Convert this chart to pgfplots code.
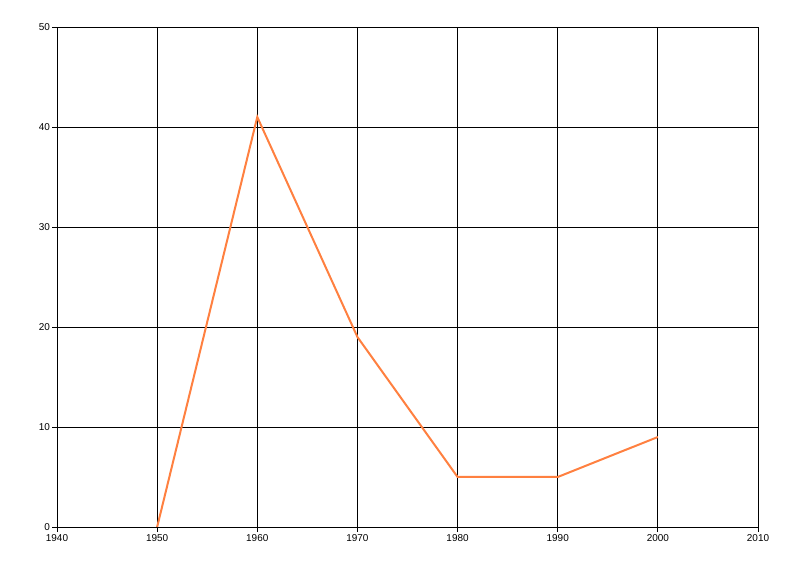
\documentclass[border=0pt]{standalone}
\usepackage{pgfplots}
\pgfplotsset{compat=1.18}
\usepackage{fontspec}
\setmainfont{Liberation Sans}
\definecolor{lineor}{RGB}{255,128,64}
\begin{document}
\begin{tikzpicture}[x=1bp,y=1bp]
\path[use as bounding box] (0,0) rectangle (800,576);
\begin{axis}[
  at={(57bp,49bp)}, anchor=south west,
  scale only axis, width=701bp, height=500bp,
  xmin=1940, xmax=2010, ymin=0, ymax=50,
  xtick={1940,1950,...,2010}, ytick={0,10,...,50},
  grid=major, major grid style={black, line width=0.9bp},
  axis line style={black, line width=0.9bp},
  tick style={black, line width=0.9bp},
  tick align=outside, major tick length=5bp,
  xtick pos=bottom, ytick pos=left,
  xticklabel style={/pgf/number format/1000 sep={}},
  /pgf/number format/assume math mode=true,
  ticklabel style={font=\fontsize{10}{12}\selectfont},
  xticklabel shift=-1bp, yticklabel shift=-1.5bp,
]
\addplot[lineor, line width=2bp, mark=none] coordinates {
(1950,0) (1960,41) (1970,19) (1980,5) (1990,5) (2000,9)
};
\end{axis}
\end{tikzpicture}
\end{document}
